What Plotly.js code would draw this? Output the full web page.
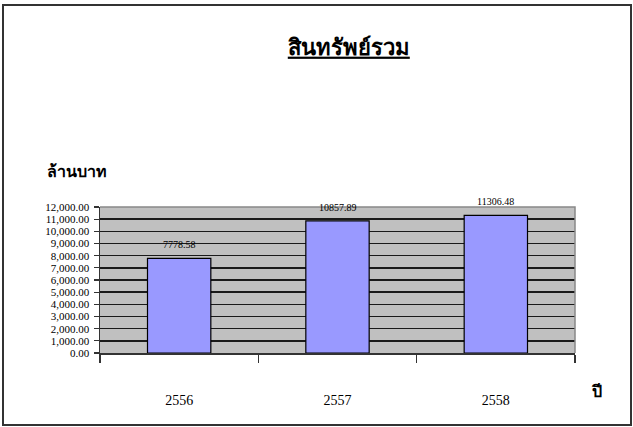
<!DOCTYPE html>
<html>
<head>
<meta charset="utf-8">
<script src="https://cdn.plot.ly/plotly-3.0.1.min.js"></script>
<style>
html,body{margin:0;padding:0;background:#fff;}
#wrap{position:relative;width:633px;height:427px;}
#chart{width:633px;height:427px;}
#frame{position:absolute;left:2px;top:4px;width:626px;height:418px;border:2px solid #333;pointer-events:none;}
</style>
</head>
<body>
<div id="wrap"><div id="chart"></div><div id="frame"></div></div>
<script>
const years = ['2556', '2557', '2558'];
const totalAssets = [7778.58, 10857.89, 11306.48];
const valueLabels = ['7778.58', '10857.89', '11306.48'];
const chartTitle = 'สินทรัพย์รวม';
const yUnit = 'ล้านบาท';
const xUnit = 'ปี';

const serif = 'Liberation Serif, Times New Roman, serif';

const trace = {
  type: 'bar',
  x: years,
  y: totalAssets,
  width: 0.4,
  marker: {color: '#9999ff', line: {color: '#000', width: 1.2}},
  hoverinfo: 'skip'
};

const annotations = years.map((c, i) => ({
  x: i, y: totalAssets[i], xref: 'x', yref: 'y',
  text: valueLabels[i], showarrow: false, yanchor: 'bottom', yshift: 6,
  font: {family: serif, size: 10, color: '#000'}
}));
annotations.push({
  xref: 'paper', yref: 'paper', x: -0.115, y: 1.24, xanchor: 'left', yanchor: 'middle',
  text: '<b>' + yUnit + '</b>', showarrow: false,
  font: {family: serif, size: 16, color: '#000'}
});
annotations.push({
  xref: 'paper', yref: 'paper', x: 1.03, y: -0.26, xanchor: 'left', yanchor: 'middle',
  text: '<b>' + xUnit + '</b>', showarrow: false,
  font: {family: serif, size: 16, color: '#000'}
});

const layout = {
  width: 633, height: 427,
  margin: {l: 100, r: 58, t: 207, b: 74},
  paper_bgcolor: '#fff',
  plot_bgcolor: '#c0c0c0',
  showlegend: false,
  title: {
    text: '<u><b>' + chartTitle + '</b></u>',
    x: 0.551, xref: 'container', xanchor: 'center',
    y: 0.89, yref: 'container', yanchor: 'middle',
    font: {family: serif, size: 22, color: '#000'}
  },
  xaxis: {
    type: 'category',
    categoryorder: 'array', categoryarray: years,
    range: [-0.5, 2.5],
    showgrid: false,
    showline: true, linecolor: '#333', linewidth: 1.5,
    ticks: 'outside', tickson: 'boundaries', ticklen: 8, tickcolor: '#333', tickwidth: 1.2,
    ticklabelstandoff: 34, tickangle: 0,
    tickfont: {family: serif, size: 14, color: '#000'},
    zeroline: false
  },
  yaxis: {
    range: [0, 12000], dtick: 1000, tick0: 0,
    tickformat: ',.2f',
    showgrid: true, gridcolor: '#1a1a1a', gridwidth: 1.4,
    showline: true, linecolor: '#333', linewidth: 1.5,
    ticks: 'outside', ticklen: 5, tickcolor: '#333', tickwidth: 1.2,
    ticklabelstandoff: 2,
    tickfont: {family: serif, size: 11, color: '#000'},
    zeroline: false
  },
  shapes: [{
    type: 'path', xref: 'paper', yref: 'paper',
    path: 'M 0 1 L 1 1 L 1 0', line: {color: '#888', width: 1.5}
  }],
  annotations: annotations
};

Plotly.newPlot('chart', [trace], layout, {displayModeBar: false, staticPlot: true});
</script>
</body>
</html>
